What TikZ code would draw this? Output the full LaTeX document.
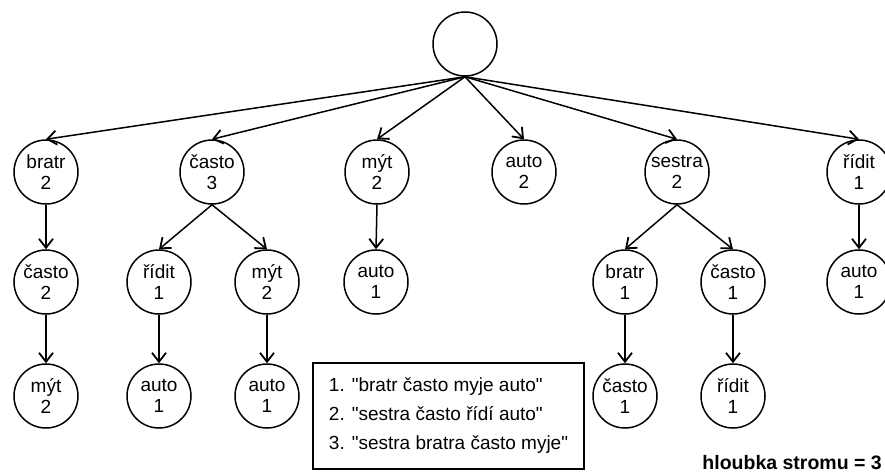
\documentclass[tikz,border=0pt]{standalone}
\usepackage{fontspec}
\setmainfont{Liberation Sans}[Ligatures=TeXOff]
\usetikzlibrary{arrows.meta}

\tikzset{
  word/.style={circle, draw, line width=1.5pt, minimum size=64pt, inner sep=0pt},
  wlabel/.style={align=center, font=\fontsize{19}{21}\selectfont, inner sep=0pt},
  arr/.style={line width=1.5pt, -{Straight Barb[length=9pt,width=14pt,line width=1.8pt]}},
}
\newcommand{\wnode}[4]{%
  \node[word, label={[wlabel]center:{#4}}] (#1) at (#2,#3) {};}

\begin{document}
\begin{tikzpicture}[x=1pt, y=-1pt]
  \useasboundingbox (0,0) rectangle (885,472);
  \clip (0,0) rectangle (885,472);

  % root
  \node[word] (root) at (465,44) {};

  % first level
  \wnode{n1}{46}{172}{bratr\\2}
  \wnode{n2}{212}{172}{často\\3}
  \wnode{n3}{377}{172}{mýt\\2}
  \wnode{n4}{524}{172}{auto\\2}
  \wnode{n5}{677}{172}{sestra\\2}
  \wnode{n6}{859}{172}{řídit\\1}

  % second level
  \wnode{n11}{46}{282}{často\\2}
  \wnode{n21}{159}{282}{řídit\\1}
  \wnode{n22}{267}{282}{mýt\\2}
  \wnode{n31}{376}{282}{auto\\1}
  \wnode{n51}{625}{282}{bratr\\1}
  \wnode{n52}{733}{282}{často\\1}
  \wnode{n61}{859}{282}{auto\\1}

  % third level
  \wnode{n111}{46}{396}{mýt\\2}
  \wnode{n211}{159}{396}{auto\\1}
  \wnode{n221}{267}{396}{auto\\1}
  \wnode{n511}{625}{396}{často\\1}
  \wnode{n521}{733}{396}{řídit\\1}

  % edges
  \foreach \c in {n1,n2,n3,n4,n5,n6}
    \draw[arr] (root.south) -- (\c.north);
  \draw[arr] (n1.south) -- (n11.north);
  \draw[arr] (n2.south) -- (n21.north);
  \draw[arr] (n2.south) -- (n22.north);
  \draw[arr] (n3.south) -- (n31.north);
  \draw[arr] (n5.south) -- (n51.north);
  \draw[arr] (n5.south) -- (n52.north);
  \draw[arr] (n6.south) -- (n61.north);
  \draw[arr] (n11.south) -- (n111.north);
  \draw[arr] (n21.south) -- (n211.north);
  \draw[arr] (n22.south) -- (n221.north);
  \draw[arr] (n51.south) -- (n511.north);
  \draw[arr] (n52.south) -- (n521.north);

  % sentences
  \node[draw, line width=1.2pt, minimum width=271pt, minimum height=106pt,
        inner sep=0pt, align=left, font=\fontsize{19}{29}\selectfont]
    (sent) at (448.5,416) {1. "bratr často myje auto"\\2. "sestra často řídí auto"\\3. "sestra bratra často myje"};

  % depth
  \node[anchor=base east, inner sep=0pt, font=\fontsize{19.5}{22}\selectfont\bfseries]
    (depth) at (882,469) {hloubka stromu = 3};
\end{tikzpicture}
\end{document}
